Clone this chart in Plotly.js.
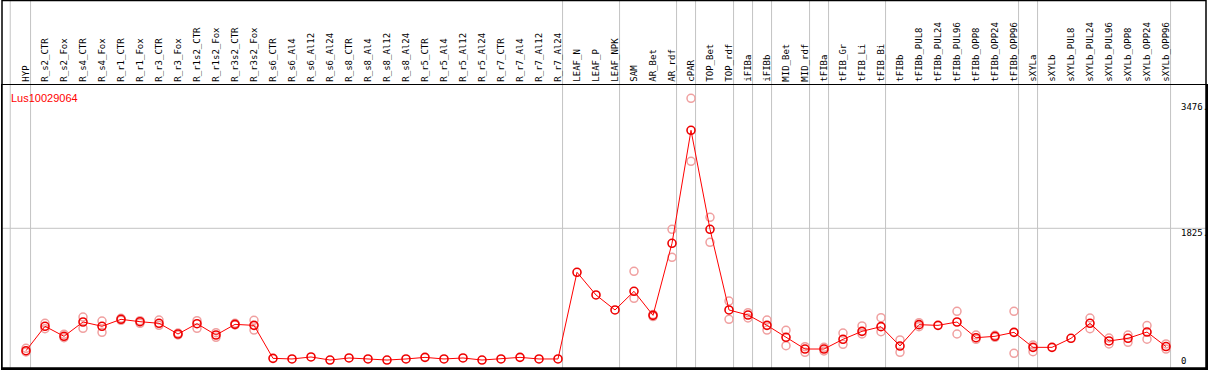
<!DOCTYPE html>
<html>
<head>
<meta charset="utf-8">
<script src="https://cdn.plot.ly/plotly-3.0.1.min.js"></script>
<style>html,body{margin:0;padding:0;background:#fff;}#chart{width:1209px;height:370px;}</style>
</head>
<body>
<div id="chart"></div>
<script>
const chartTitle = "Lus10029064";
const categories = ["HYP","R_s2_CTR","R_s2_Fox","R_s4_CTR","R_s4_Fox","R_r1_CTR","R_r1_Fox","R_r3_CTR","R_r3_Fox","R_r1s2_CTR","R_r1s2_Fox","R_r3s2_CTR","R_r3s2_Fox","R_s6_CTR","R_s6_Al4","R_s6_Al12","R_s6_Al24","R_s8_CTR","R_s8_Al4","R_s8_Al12","R_s8_Al24","R_r5_CTR","R_r5_Al4","R_r5_Al12","R_r5_Al24","R_r7_CTR","R_r7_Al4","R_r7_Al12","R_r7_Al24","LEAF_N","LEAF_P","LEAF_NPK","SAM","AR_Bet","AR_rdf","cPAR","TOP_Bet","TOP_rdf","iFIBa","iFIBb","MID_Bet","MID_rdf","tFIBa","tFIB_Gr","tFIB_Li","tFIB_Bi","tFIBb","tFIBb_PUL8","tFIBb_PUL24","tFIBb_PUL96","tFIBb_OPP8","tFIBb_OPP24","tFIBb_OPP96","sXYLa","sXYLb","sXYLb_PUL8","sXYLb_PUL24","sXYLb_PUL96","sXYLb_OPP8","sXYLb_OPP24","sXYLb_OPP96"];
const meanValues = [226,545,414,601,545,636,605,584,444,579,431,570,557,126,118,144,104,131,118,104,118,139,118,131,104,118,139,118,118,1250,954,758,1002,688,1629,3105,1812,758,692,557,401,248,248,375,479,540,287,566,557,601,396,414,466,270,270,388,584,353,388,470,280];
const replicateA = [257,584,440,666,614,649,618,627,457,618,461,584,623,null,null,null,null,null,null,null,null,null,null,null,null,null,null,null,null,null,null,null,1263,700,1812,3523,1969,875,723,627,492,279,270,457,549,657,366,592,null,740,431,427,740,300,null,null,653,392,431,555,314];
const replicateB = [209,514,396,518,466,623,584,557,431,518,401,562,496,null,null,null,null,null,null,null,null,null,null,null,null,null,null,null,null,null,null,null,910,672,1446,2700,1642,636,653,496,291,205,222,309,444,474,205,540,null,444,375,401,192,213,null,null,514,314,336,377,248];
const yTickVals = [0,1825,3476];
const yTickText = ["0","1825.","3476."];
const gridLineValue = 1825;
const groupEndIndex = [0,28,31,34,35,37,38,39,41,42,45,52,53,60];

const idx = categories.map((c,i)=>i);
const repX = [], repY = [];
idx.forEach(i=>{
  if (replicateA[i]!==null){repX.push(i);repY.push(replicateA[i]);}
  if (replicateB[i]!==null){repX.push(i);repY.push(replicateB[i]);}
});

const traces = [
  {x:repX, y:repY, type:"scatter", mode:"markers", hoverinfo:"skip",
   marker:{symbol:"circle-open", size:8, color:"#f0a0a0", line:{width:1.5, color:"#f0a0a0"}}},
  {x:idx, y:meanValues, type:"scatter", mode:"lines+markers",
   line:{color:"#ff0000", width:1},
   marker:{symbol:"circle-open", size:8, color:"#ee0000", line:{width:1.6, color:"#ee0000"}}}
];

const topPaper = 1 + 84.5/283;
const shapes = [];
const sepX = [-0.83].concat(groupEndIndex.map(g=>g+0.24));
sepX.forEach(x=>shapes.push({type:"line", xref:"x", yref:"paper", x0:x, x1:x, y0:0, y1:topPaper, line:{color:"#c4c4c4", width:1}, layer:"below"}));
shapes.push({type:"line", xref:"paper", yref:"y", x0:0, x1:1, y0:gridLineValue, y1:gridLineValue, line:{color:"#c4c4c4", width:1}, layer:"below"});
shapes.push({type:"rect", xref:"paper", yref:"paper", x0:0, x1:1, y0:0, y1:topPaper, line:{color:"#000", width:1.5}, fillcolor:"rgba(0,0,0,0)"});

const annotations = [
  {text:chartTitle, xref:"paper", yref:"paper", x:0.0058, y:0.954, xanchor:"left", yanchor:"middle", showarrow:false, font:{family:"Liberation Sans", size:11, color:"#ff0000"}}
];
yTickVals.forEach((v,k)=>annotations.push({text:yTickText[k], xref:"paper", yref:"y", x:0.9776, y:v, xanchor:"left", yanchor: v===0 ? "bottom":"top", yshift: v===0 ? 0 : 2, showarrow:false, font:{family:"DejaVu Sans Mono", size:9, color:"#000"}}));

const layout = {
  width:1209, height:370,
  margin:{l:2, r:3, t:85, b:2, pad:0},
  paper_bgcolor:"#fff", plot_bgcolor:"#fff",
  showlegend:false,
  xaxis:{range:[-1.263, 62.105], tickmode:"array", tickvals:idx, ticktext:categories, side:"top", tickangle:-90,
         tickfont:{family:"DejaVu Sans Mono", size:9, color:"#000"}, ticks:"", showgrid:false, zeroline:false,
         showline:true, mirror:true, linecolor:"#000", linewidth:1.5, fixedrange:true},
  yaxis:{range:[0, 3697], showticklabels:false, showgrid:false, zeroline:false, showline:true, mirror:true,
         linecolor:"#000", linewidth:1.5, fixedrange:true},
  shapes:shapes,
  annotations:annotations
};
Plotly.newPlot("chart", traces, layout, {displayModeBar:false, staticPlot:true});
</script>
</body>
</html>
